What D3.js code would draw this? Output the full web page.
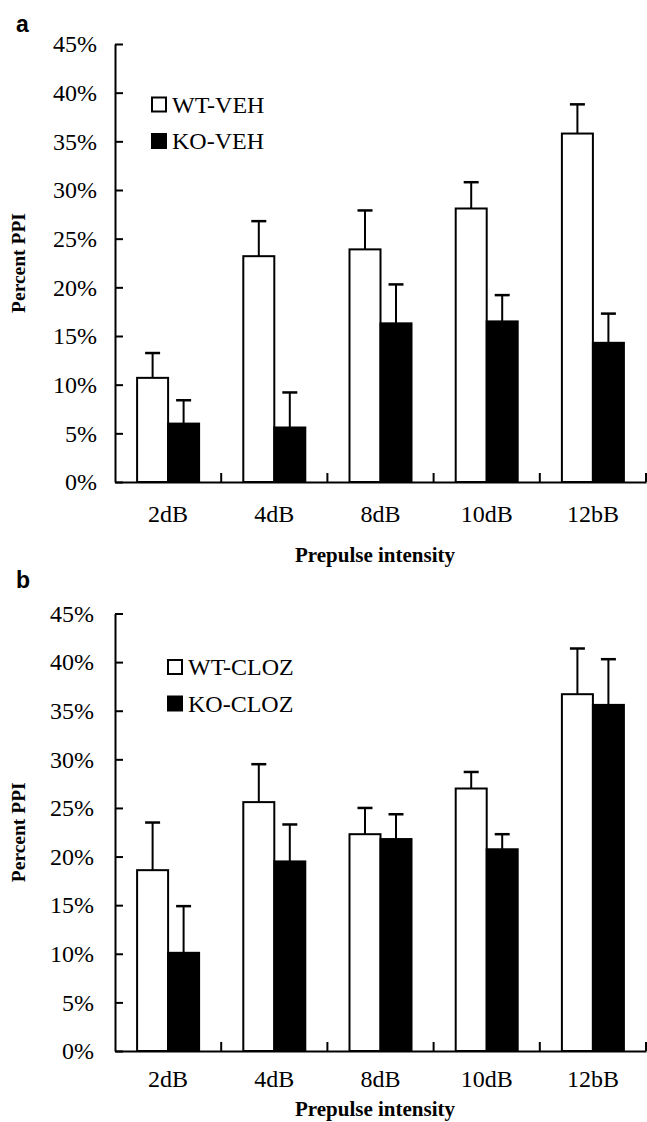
<!DOCTYPE html>
<html>
<head>
<meta charset="utf-8">
<script src="https://cdn.jsdelivr.net/npm/d3@7"></script>
<style>
  body { margin: 0; background: #fff; }
  svg { display: block; }
</style>
</head>
<body>
<svg id="chart"></svg>
<script>
// data (percent PPI), error = upper SEM whisker
var categories = ["2dB", "4dB", "8dB", "10dB", "12bB"];
var yTicks = [0, 5, 10, 15, 20, 25, 30, 35, 40, 45];

var wtVeh    = [10.7, 23.2, 23.9, 28.1, 35.8];
var wtVehErr = [2.55, 3.6, 4.0, 2.7, 3.0];
var koVeh    = [6.0, 5.6, 16.3, 16.5, 14.3];
var koVehErr = [2.4, 3.6, 4.0, 2.7, 3.0];

var wtCloz    = [18.6, 25.6, 22.3, 27.0, 36.7];
var wtClozErr = [4.9, 3.9, 2.7, 1.7, 4.7];
var koCloz    = [10.1, 19.5, 21.8, 20.75, 35.6];
var koClozErr = [4.8, 3.8, 2.55, 1.55, 4.7];

var chart_width = 647;
var chart_height = 1122;
var plot_left = 115;
var plot_right = 646;
var bar_width = 31;
var serif = "'Liberation Serif', 'Times New Roman', serif";

var svg = d3.select("#chart")
    .attr("width", chart_width)
    .attr("height", chart_height);

svg.append("rect")
    .attr("width", chart_width)
    .attr("height", chart_height)
    .attr("fill", "#fff");

//--------------------------------------

function drawPanel(cfg)
{
    var g = svg.append("g");

    var xCat = d3.scaleBand()
        .domain(categories)
        .range([plot_left, plot_right]);

    var xSeries = d3.scaleBand()
        .domain(["wt", "ko"])
        .range([xCat.bandwidth() / 2 - bar_width, xCat.bandwidth() / 2 + bar_width]);

    var y = d3.scaleLinear()
        .domain([0, 45])
        .range([cfg.bottom, cfg.top]);

    var series = [
        { key: "wt", values: cfg.wt, err: cfg.wtErr, fill: "#fff" },
        { key: "ko", values: cfg.ko, err: cfg.koErr, fill: "#000" }
    ];

    // bars
    series.forEach(function(s) {
        var sg = g.append("g");
        sg.selectAll("rect")
            .data(categories)
            .enter()
            .append("rect")
            .attr("x", (d) => xCat(d) + xSeries(s.key))
            .attr("y", (d, i) => y(s.values[i]))
            .attr("width", xSeries.bandwidth())
            .attr("height", (d, i) => cfg.bottom - y(s.values[i]))
            .attr("fill", s.fill)
            .attr("stroke", "#000")
            .attr("stroke-width", 2);

        // upper error whisker
        var cx = (d) => xCat(d) + xSeries(s.key) + xSeries.bandwidth() / 2;
        sg.selectAll(".whisker")
            .data(categories)
            .enter()
            .append("line")
            .attr("x1", cx).attr("x2", cx)
            .attr("y1", (d, i) => y(s.values[i]))
            .attr("y2", (d, i) => y(s.values[i] + s.err[i]))
            .attr("stroke", "#000")
            .attr("stroke-width", 2);
        sg.selectAll(".cap")
            .data(categories)
            .enter()
            .append("line")
            .attr("x1", (d) => cx(d) - 7.5).attr("x2", (d) => cx(d) + 7.5)
            .attr("y1", (d, i) => y(s.values[i] + s.err[i]))
            .attr("y2", (d, i) => y(s.values[i] + s.err[i]))
            .attr("stroke", "#000")
            .attr("stroke-width", 2.5);
    });

    // y axis, ticks pointing inward
    var yAxis = g.append("g")
        .attr("transform", "translate(" + plot_left + ",0)")
        .call(d3.axisLeft(y)
            .tickValues(yTicks)
            .tickSizeInner(-8)
            .tickSizeOuter(0)
            .tickPadding(cfg.yPad)
            .tickFormat((d) => d + "%"));

    // x axis, labels at centres, tick marks at category boundaries
    var xAxis = g.append("g")
        .attr("transform", "translate(0," + cfg.bottom + ")")
        .call(d3.axisBottom(xCat)
            .tickSize(0)
            .tickPadding(cfg.xPad));

    xAxis.selectAll(".boundary")
        .data(categories)
        .enter()
        .append("line")
        .attr("x1", (d) => xCat(d) + xCat.bandwidth())
        .attr("x2", (d) => xCat(d) + xCat.bandwidth())
        .attr("y1", 0)
        .attr("y2", -9)
        .attr("stroke", "#000")
        .attr("stroke-width", 2);

    [yAxis, xAxis].forEach(function(ax) {
        ax.selectAll("path, line").attr("stroke", "#000").attr("stroke-width", 2);
        ax.selectAll("text")
            .attr("fill", "#000")
            .style("font-family", serif)
            .style("font-size", "24px");
    });

    // axis titles
    g.append("text")
        .attr("x", 375)
        .attr("y", cfg.xTitleY)
        .attr("text-anchor", "middle")
        .style("font-family", serif)
        .style("font-weight", "bold")
        .style("font-size", "21px")
        .text("Prepulse intensity");

    g.append("text")
        .attr("transform", "translate(25," + ((cfg.top + cfg.bottom) / 2) + ") rotate(-90)")
        .attr("text-anchor", "middle")
        .style("font-family", serif)
        .style("font-weight", "bold")
        .style("font-size", "19.5px")
        .text("Percent PPI");

    // panel letter
    g.append("text")
        .attr("x", 16)
        .attr("y", cfg.letterY)
        .style("font-family", "'Liberation Sans', Arial, sans-serif")
        .style("font-weight", "bold")
        .style("font-size", "23px")
        .text(cfg.letter);

    // legend
    var lg = g.append("g");
    cfg.legend.forEach(function(name, i) {
        var base = cfg.legendY + i * 36.5;
        lg.append("rect")
            .attr("x", cfg.legendX)
            .attr("y", base - 15)
            .attr("width", 14)
            .attr("height", 14)
            .attr("fill", series[i].fill)
            .attr("stroke", "#000")
            .attr("stroke-width", 2);
        lg.append("text")
            .attr("x", cfg.legendX + 20)
            .attr("y", base)
            .style("font-family", serif)
            .style("font-size", "24px")
            .text(name);
    });
}

//--------draw panels---------

drawPanel({
    letter: "a", letterY: 31.5,
    top: 44, bottom: 482,
    wt: wtVeh, wtErr: wtVehErr, ko: koVeh, koErr: koVehErr,
    legend: ["WT-VEH", "KO-VEH"], legendX: 152, legendY: 112.5,
    yPad: 18, xPad: 23, xTitleY: 561.5
});

drawPanel({
    letter: "b", letterY: 587.5,
    top: 613.5, bottom: 1051,
    wt: wtCloz, wtErr: wtClozErr, ko: koCloz, koErr: koClozErr,
    legend: ["WT-CLOZ", "KO-CLOZ"], legendX: 168, legendY: 675,
    yPad: 21, xPad: 19, xTitleY: 1116
});
</script>
</body>
</html>
